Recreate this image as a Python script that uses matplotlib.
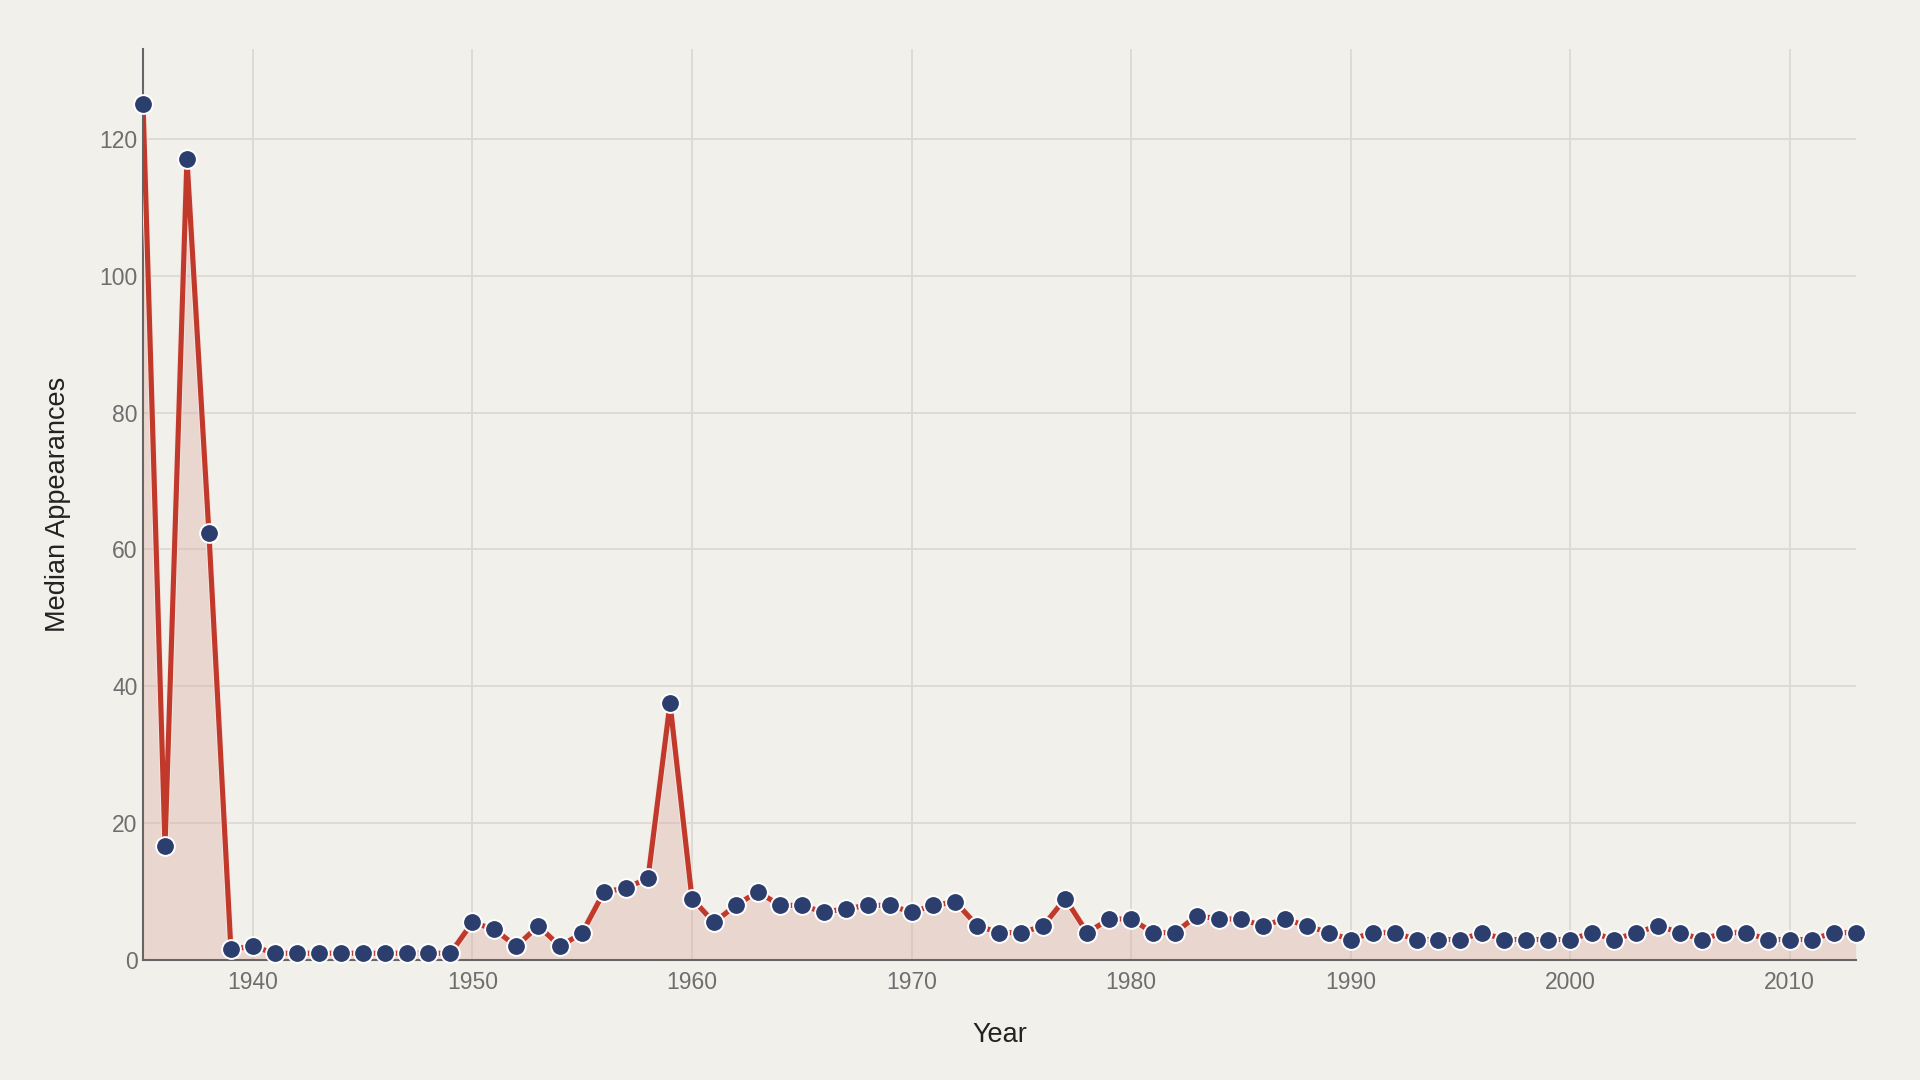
import matplotlib
matplotlib.use("Agg")
import matplotlib.pyplot as plt
import matplotlib.patheffects as pe

years = list(range(1935, 2014))
median_appearances = [
    125, 16.6, 117, 62.4, 1.6, 2, 1, 1, 1, 1,          # 1935-1944
    1, 1, 1, 1, 1, 5.5, 4.5, 2, 5, 2,                   # 1945-1954
    4, 10, 10.5, 12, 37.5, 9, 5.5, 8, 10, 8,            # 1955-1964
    8, 7, 7.5, 8, 8, 7, 8, 8.5, 5, 4,                   # 1965-1974
    4, 5, 9, 4, 6, 6, 4, 4, 6.5, 6,                     # 1975-1984
    6, 5, 6, 5, 4, 3, 4, 4, 3, 3,                       # 1985-1994
    3, 4, 3, 3, 3, 3, 4, 3, 4, 5,                       # 1995-2004
    4, 3, 4, 4, 3, 3, 3, 4, 4,                          # 2005-2013
]
x_ticks = [1940, 1950, 1960, 1970, 1980, 1990, 2000, 2010]
y_ticks = [0, 20, 40, 60, 80, 100, 120]

bg = "#f1f0eb"
line_color = "#c0392b"
marker_color = "#2c3e6e"

plt.rcParams['font.family'] = ['Liberation Sans', 'DejaVu Sans']

fig = plt.figure(figsize=(19.2, 10.8), dpi=100, facecolor=bg)
ax = fig.add_axes([0.0745, 0.111, 0.892, 0.8436])
ax.set_facecolor(bg)

ax.fill_between(years, median_appearances, 0, color="#dba89c", alpha=0.35, lw=0, zorder=1)
ax.plot(years, median_appearances, color=line_color, lw=3.7, zorder=3,
        solid_joinstyle='miter', solid_capstyle='butt',
        path_effects=[pe.Stroke(linewidth=5.0, foreground="#f6e6e2"), pe.Normal()])
ax.plot(years, median_appearances, ls='none', marker='o', ms=13.5,
        mfc=marker_color, mec="white", mew=1.4, zorder=4, clip_on=False)

ax.set_xlim(1935, 2013)
ax.set_ylim(0, 133.1)
ax.set_xticks(x_ticks)
ax.set_yticks(y_ticks)
ax.grid(True, color="#dcd9d3", lw=1.3)
ax.set_axisbelow(True)
ax.tick_params(axis='x', length=0, labelsize=16.5, labelcolor="#6e6e6e", pad=8)
ax.tick_params(axis='y', length=0, labelsize=16.5, labelcolor="#6e6e6e", pad=4)

for side in ['top', 'right']:
    ax.spines[side].set_visible(False)
for side in ['left', 'bottom']:
    ax.spines[side].set_color("#666666")
    ax.spines[side].set_linewidth(1.5)

ax.set_xlabel("Year", fontsize=19.5, color="#222222", labelpad=20)
ax.set_ylabel("Median Appearances", fontsize=19.5, color="#222222", labelpad=20)

fig.savefig("out.png", dpi=100, facecolor=bg)
